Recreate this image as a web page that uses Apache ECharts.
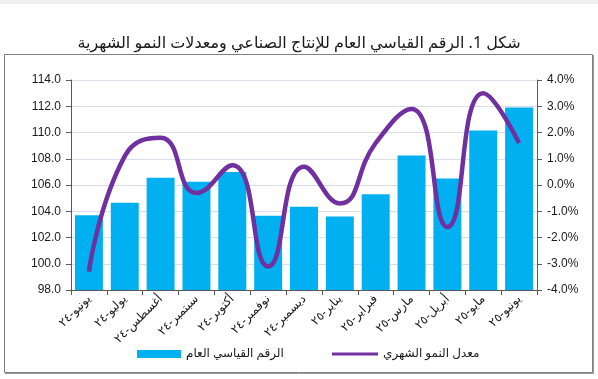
<!DOCTYPE html>
<html><head><meta charset="utf-8">
<script src="https://cdn.jsdelivr.net/npm/echarts@6/dist/echarts.min.js"></script>
<style>html,body{margin:0;padding:0;background:#fff}#c{width:598px;height:379px}</style>
</head><body><div id="c"></div>
<script>
const categories = ["يونيو-٢٤","يوليو-٢٤","أغسطس-٢٤","سبتمبر-٢٤","أكتوبر-٢٤","نوفمبر-٢٤","ديسمبر-٢٤","يناير-٢٥","فبراير-٢٥","مارس-٢٥","أبريل-٢٥","مايو-٢٥","يونيو-٢٥"];
const indexValues = [103.7,104.65,106.55,106.25,107.0,103.65,104.35,103.6,105.3,108.25,106.5,110.15,111.9];
const growthValues = [-3.3,1.1,1.8,-0.3,0.75,-3.1,0.7,-0.7,1.6,2.9,-1.6,3.5,1.6];
const leftTicks = {min:98, max:114, interval:2};
const rightTicks = {min:-4, max:4, interval:1};
const titleText = "شكل 1. الرقم القياسي العام للإنتاج الصناعي ومعدلات النمو الشهرية";
const barName = "الرقم القياسي العام";
const lineName = "معدل النمو الشهري";

const chart = echarts.init(document.getElementById('c'), null, {renderer:'canvas'});
const axisFont = {fontFamily:'Liberation Sans, Arial, sans-serif', fontSize:12, color:'#1a1a1a'};
const legendText = {fontFamily:'Noto Sans, DejaVu Sans, sans-serif', fontSize:12, color:'#1a1a1a'};
chart.setOption({
  animation:false,
  backgroundColor:'#fff',
  graphic:[
    {type:'rect', shape:{x:0,y:0,width:598,height:4}, style:{fill:'#f0f0f0'}, silent:true},
    {type:'rect', shape:{x:4.5,y:54.5,width:588,height:318}, style:{fill:'none', stroke:'#7f7f7f', lineWidth:1}, silent:true},
    {type:'line', shape:{x1:593.5,y1:55,x2:593.5,y2:374}, style:{stroke:'#9a9a9a', lineWidth:1}, silent:true},
    {type:'line', shape:{x1:5,y1:373.5,x2:594,y2:373.5}, style:{stroke:'#9a9a9a', lineWidth:1}, silent:true}
  ],
  title:{text:titleText, left:'center', top:30, textStyle:{fontFamily:'Noto Sans, DejaVu Sans, sans-serif', fontSize:16, fontWeight:'normal', color:'#1a1a1a'}},
  legend:[
    {left:132, top:343, itemWidth:44, itemHeight:8, itemGap:6, textStyle:legendText,
     data:[{name:barName, icon:'rect'}]},
    {left:327, top:343, itemWidth:46, itemHeight:3, textStyle:legendText,
     data:[{name:lineName, icon:'rect', itemStyle:{color:'#7030a0'}}]}
  ],
  grid:{left:71, right:61, top:80, bottom:89},
  xAxis:{
    type:'category', data:categories, boundaryGap:true,
    axisLine:{onZero:false, lineStyle:{color:'#595959', width:1}},
    axisTick:{show:true, alignWithLabel:false, length:5, lineStyle:{color:'#595959'}},
    axisLabel:{rotate:45, interval:0, margin:7, fontFamily:'Noto Sans, DejaVu Sans, sans-serif', fontSize:12, color:'#1a1a1a'}
  },
  yAxis:[
    {type:'value', min:leftTicks.min, max:leftTicks.max, interval:leftTicks.interval, position:'left',
     axisLine:{show:true, lineStyle:{color:'#595959'}},
     axisTick:{show:true, length:5, lineStyle:{color:'#595959'}},
     splitLine:{show:true, lineStyle:{color:'#dcdcea', width:1}},
     axisLabel:Object.assign({formatter:v=>v.toFixed(1), margin:10}, axisFont)},
    {type:'value', min:rightTicks.min, max:rightTicks.max, interval:rightTicks.interval, position:'right',
     axisLine:{show:true, lineStyle:{color:'#595959'}},
     axisTick:{show:true, length:5, lineStyle:{color:'#595959'}},
     splitLine:{show:false},
     axisLabel:Object.assign({formatter:v=>v.toFixed(1)+'%', margin:10}, axisFont)}
  ],
  series:[
    {name:barName, type:'bar', data:indexValues, yAxisIndex:0, barCategoryGap:'22%', itemStyle:{color:'#00b0f0'}},
    {name:lineName, type:'line', data:growthValues, yAxisIndex:1, smooth:0.5, showSymbol:false, symbol:'none',
     lineStyle:{color:'#7030a0', width:4.5}, itemStyle:{color:'#7030a0'}, z:5}
  ]
});
</script></body></html>
